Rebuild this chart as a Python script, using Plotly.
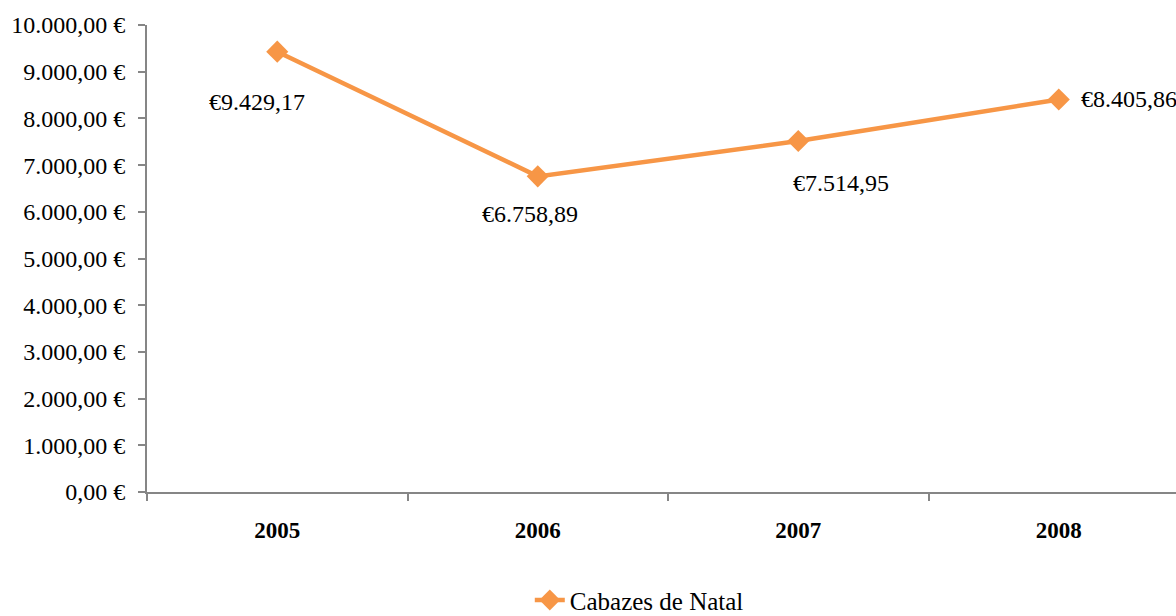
import plotly.graph_objects as go

years = ["2005", "2006", "2007", "2008"]
values = [9429.17, 6758.89, 7514.95, 8405.86]
value_labels = ["€9.429,17", "€6.758,89", "€7.514,95", "€8.405,86"]
y_ticks = [0, 1000, 2000, 3000, 4000, 5000, 6000, 7000, 8000, 9000, 10000]
y_tick_labels = ["0,00 €", "1.000,00 €", "2.000,00 €", "3.000,00 €", "4.000,00 €",
                 "5.000,00 €", "6.000,00 €", "7.000,00 €", "8.000,00 €",
                 "9.000,00 €", "10.000,00 €"]
series_name = "Cabazes de Natal"

FONT = "Liberation Serif"
ORANGE = "#F79646"
AXIS = "#868686"

fig = go.Figure()
fig.add_trace(go.Scatter(
    x=years, y=values, mode="lines+markers", name=series_name,
    line=dict(color=ORANGE, width=4.5),
    marker=dict(symbol="diamond", size=17, color=ORANGE),
))

offsets = [(-20, -50), (-8, -38), (43, -42), (20, 0)]
anchors = ["center", "center", "center", "left"]
for i, (v, lab, (dx, dy), anc) in enumerate(zip(values, value_labels, offsets, anchors)):
    fig.add_annotation(x=i, y=v, xref="x", yref="y", text=lab, showarrow=False,
                       xshift=dx, yshift=dy, xanchor=anc,
                       font=dict(family=FONT, size=24, color="#000"))

fig.update_layout(
    width=1176, height=616,
    margin=dict(l=147, r=0, t=25, b=124, autoexpand=False),
    paper_bgcolor="white", plot_bgcolor="white",
    font=dict(family=FONT, size=24, color="#000"),
    showlegend=True,
    legend=dict(orientation="h", x=0.372, xanchor="left", y=-0.281, yanchor="bottom",
                font=dict(family=FONT, size=25, color="#000")),
)
fig.update_xaxes(
    type="category", range=[-0.5, 3.45], tickson="boundaries", automargin=False,
    ticks="outside", ticklen=7, tickcolor=AXIS, tickwidth=2,
    showline=True, linecolor=AXIS, linewidth=2, showgrid=False,
    tickfont=dict(family=FONT, size=23, color="#000", weight="bold"),
    ticklabelstandoff=16,
)
fig.update_yaxes(
    range=[0, 10000], tickvals=y_ticks, ticktext=y_tick_labels, automargin=False,
    ticks="outside", ticklen=7, tickcolor=AXIS, tickwidth=2,
    showline=True, linecolor=AXIS, linewidth=2, showgrid=False, zeroline=False,
    tickfont=dict(family=FONT, size=24, color="#000"),
    ticklabelstandoff=8,
)
fig.write_html(
    "out.html",
    config={"displayModeBar": False},
    post_script="document.body.style.margin='0';document.body.style.overflow='hidden';",
)
